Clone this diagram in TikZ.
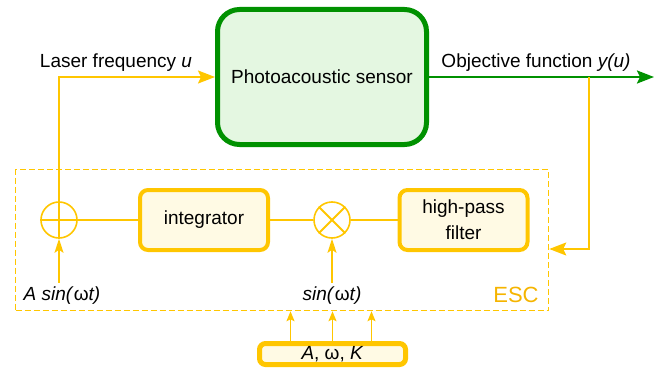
\documentclass[tikz,border=0pt]{standalone}
\usepackage{fontspec}
\setmainfont{Liberation Sans}
\usetikzlibrary{arrows.meta}

\definecolor{escyellow}{RGB}{255,198,0}
\definecolor{esctext}{RGB}{245,180,0}
\definecolor{boxfill}{RGB}{255,250,228}
\definecolor{pagreen}{RGB}{0,145,0}
\definecolor{pafill}{RGB}{228,247,225}

\begin{document}
\begin{tikzpicture}[x=1pt,y=-1pt,
    every node/.style={font=\fontsize{19}{26}\selectfont},
    yline/.style={escyellow, line width=1.8pt},
    gline/.style={pagreen, line width=2.2pt},
    bigtip/.style={-{Stealth[length=17pt,width=13pt,inset=3pt]}},
    midtip/.style={-{Stealth[length=14pt,width=9pt,inset=3pt]}},
    smalltip/.style={-{Stealth[length=10pt,width=8pt,inset=2pt]}},
    sensorbox/.style={draw=pagreen, fill=pafill, line width=5pt, rounded corners=22pt,
        minimum width=209pt, minimum height=135pt},
    block/.style={draw=escyellow, fill=boxfill, line width=4pt, rounded corners=8pt,
        minimum width=128pt, minimum height=60pt, align=center},
    junction/.style={draw=escyellow, line width=1.6pt, circle, minimum size=36pt, inner sep=0pt},
    escframe/.style={draw=escyellow, line width=1.5pt, dash pattern=on 6pt off 3pt,
        minimum width=533pt, minimum height=141pt},
    parambox/.style={draw=escyellow, fill=boxfill, line width=5pt, rounded corners=6pt,
        minimum width=146pt, minimum height=21pt, inner sep=1pt}
]
\useasboundingbox (0,0) rectangle (664,369);

% blocks
\node [sensorbox] (sensor) at (322,77) {Photoacoustic sensor};
\node [escframe] (esc) at (282,240) {};
\node [junction] (sum) at (59,220) {};
\node [block] (integ) at (204,220) {integrator};
\node [junction] (mult) at (332,220) {};
\node [block] (hpf) at (463.5,220) {high-pass\\filter};
\node [parambox] (params) at (332.5,354) {\textit{A}, ω, \textit{K}};

% labels
\node [anchor=base] (lflabel) at (116,68) {Laser frequency \textit{u}};
\node [anchor=base] (oflabel) at (536,67) {Objective function \textit{y(u)}};
\node [anchor=base] (asin) at (62,300) {\textit{A sin(\textup{ω}t)}};
\node [anchor=base] (sinwt) at (332,300) {\textit{sin(\textup{ω}t)}};
\node [anchor=base, text=esctext, font=\fontsize{22}{26}\selectfont] (esclabel) at (516,302) {ESC};

\coordinate (out) at (654,77);
\coordinate (tap) at (589,77);
\coordinate (fb) at (589,249);

% connectors
\draw [yline, bigtip] (sum.south) -- (sum |- sensor.west) -- (sensor.west);
\draw [yline] (sum.west) -- (integ.west);
\draw [yline] (integ.east) -- (mult.west);
\draw [yline] (mult.east) -- (hpf.west);
\draw [yline] (mult.north west) -- (mult.south east);
\draw [yline] (mult.north east) -- (mult.south west);
\draw [yline, midtip] (sum |- asin.north) -- (sum.south);
\draw [yline, midtip] (sinwt.north) -- (mult.south);
\draw [gline, bigtip] (sensor.east) -- (out);
\draw [yline, bigtip] (tap) -- (fb) -- (fb -| esc.east);
\foreach \dx in {-42,0,39}
    \draw [yline, smalltip] ([xshift=\dx pt]params.north) -- ([xshift=\dx pt]params.north |- esc.south);
\end{tikzpicture}
\end{document}
